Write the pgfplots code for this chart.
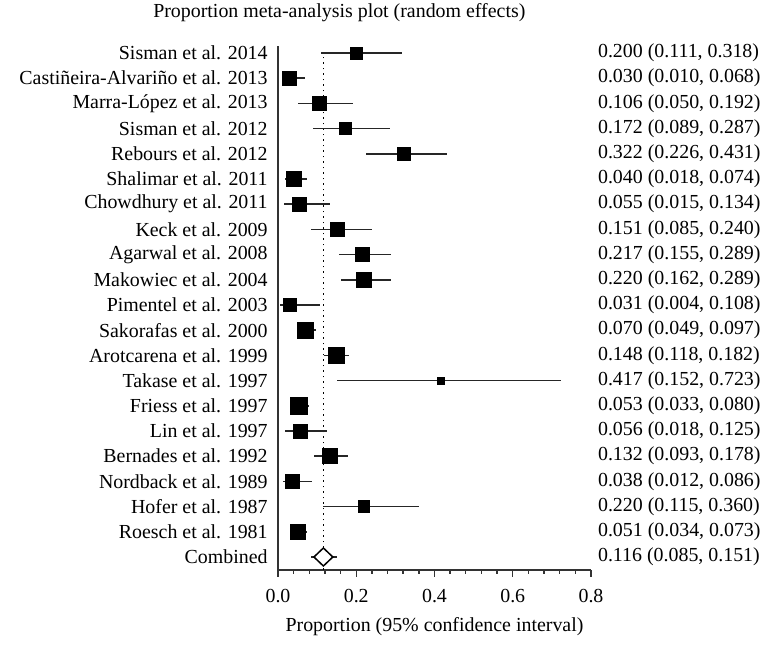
\documentclass[border=0pt]{standalone}
\usepackage{pgfplots}
\pgfplotsset{compat=1.18}
\usepackage{pgfplotstable}
\usepackage{fontspec}
\setmainfont{Liberation Serif}
\newcommand\ff{\fontsize{9.95}{11.9}\selectfont}

\pgfplotstableread{
y p lo hi s
21 0.200 0.111 0.318 3.0
20 0.030 0.010 0.068 3.5
19 0.106 0.050 0.192 3.5
18 0.172 0.089 0.287 2.9
17 0.322 0.226 0.431 3.35
16 0.040 0.018 0.074 3.65
15 0.055 0.015 0.134 3.5
14 0.151 0.085 0.240 3.5
13 0.217 0.155 0.289 3.5
12 0.220 0.162 0.289 3.6
11 0.031 0.004 0.108 3.2
10 0.070 0.049 0.097 4.0
9 0.148 0.118 0.182 4.0
8 0.417 0.152 0.723 1.75
7 0.053 0.033 0.080 4.1
6 0.056 0.018 0.125 3.5
5 0.132 0.093 0.178 3.75
4 0.038 0.012 0.086 3.5
3 0.220 0.115 0.360 2.9
2 0.051 0.034 0.073 3.9
}\studies

\begin{document}
\begin{tikzpicture}[font=\ff]
\begin{axis}[
  name=ax,
  scale only axis,
  width=156.5pt, height=262pt,
  xmin=0, xmax=0.8, ymin=0.484, ymax=21.278,
  axis x line*=bottom, axis y line*=left,
  axis line style={-, black!80, line width=0.8pt},
  xtick={0,0.2,0.4,0.6,0.8}, minor x tick num=4,
  tick align=outside, major tick length=3.5pt, minor tick length=2pt,
  tick style={black!80, line width=0.7pt},
  ytick={1,...,21},
  yticklabels={Combined, Roesch et al. 1981, Hofer et al. 1987, Nordback et al. 1989, Bernades et al. 1992, Lin et al. 1997, Friess et al. 1997, Takase et al. 1997, Arotcarena et al. 1999, Sakorafas et al. 2000, Pimentel et al. 2003, Makowiec et al. 2004, Agarwal et al. 2008, Keck et al. 2009, Chowdhury et al. 2011, Shalimar et al. 2011, Rebours et al. 2012, Sisman et al. 2012, Marra-López et al. 2013, Castiñeira-Alvariño et al. 2013, Sisman et al. 2014},
  y tick style={draw=none},
  yticklabel style={inner sep=0pt, xshift=-1.5pt, font=\ff},
  xticklabel style={font=\ff, yshift=-2.5pt, /pgf/number format/.cd, fixed, fixed zerofill, precision=1, assume math mode=true},
  clip=false,
]
% dotted line of the combined estimate
\addplot[black, line width=0.75pt, dash pattern=on 0.75pt off 2pt] coordinates {(0.116,0.484) (0.116,20.9)};
% studies
\addplot[scatter, only marks, mark=square*, point meta=y,
  scatter/use mapped color={draw=black, fill=black},
  visualization depends on={\thisrow{s} \as \msz},
  scatter/@pre marker code/.append style={/tikz/mark size=\msz},
  error bars/.cd, x dir=both, x explicit, error mark=none,
  error bar style={line width=0.8pt, black!85}]
  table[x=p, y=y, x error plus expr=\thisrow{hi}-\thisrow{p}, x error minus expr=\thisrow{p}-\thisrow{lo}] {\studies};
% combined
\addplot[only marks, mark=diamond*, mark size=4.5pt,
  mark options={fill=white, draw=black, line width=0.75pt, xscale=1.4},
  error bars/.cd, x dir=both, x explicit, error mark=none,
  error bar style={line width=0.8pt, black!85}]
  coordinates {(0.116,1) += (0.035,0) -= (0.031,0)};
% right column
\node[anchor=west] at (axis cs:0.8,21) {0.200 (0.111, 0.318)};
\node[anchor=west] at (axis cs:0.8,20) {0.030 (0.010, 0.068)};
\node[anchor=west] at (axis cs:0.8,19) {0.106 (0.050, 0.192)};
\node[anchor=west] at (axis cs:0.8,18) {0.172 (0.089, 0.287)};
\node[anchor=west] at (axis cs:0.8,17) {0.322 (0.226, 0.431)};
\node[anchor=west] at (axis cs:0.8,16) {0.040 (0.018, 0.074)};
\node[anchor=west] at (axis cs:0.8,15) {0.055 (0.015, 0.134)};
\node[anchor=west] at (axis cs:0.8,14) {0.151 (0.085, 0.240)};
\node[anchor=west] at (axis cs:0.8,13) {0.217 (0.155, 0.289)};
\node[anchor=west] at (axis cs:0.8,12) {0.220 (0.162, 0.289)};
\node[anchor=west] at (axis cs:0.8,11) {0.031 (0.004, 0.108)};
\node[anchor=west] at (axis cs:0.8,10) {0.070 (0.049, 0.097)};
\node[anchor=west] at (axis cs:0.8,9) {0.148 (0.118, 0.182)};
\node[anchor=west] at (axis cs:0.8,8) {0.417 (0.152, 0.723)};
\node[anchor=west] at (axis cs:0.8,7) {0.053 (0.033, 0.080)};
\node[anchor=west] at (axis cs:0.8,6) {0.056 (0.018, 0.125)};
\node[anchor=west] at (axis cs:0.8,5) {0.132 (0.093, 0.178)};
\node[anchor=west] at (axis cs:0.8,4) {0.038 (0.012, 0.086)};
\node[anchor=west] at (axis cs:0.8,3) {0.220 (0.115, 0.360)};
\node[anchor=west] at (axis cs:0.8,2) {0.051 (0.034, 0.073)};
\node[anchor=west] at (axis cs:0.8,1) {0.116 (0.085, 0.151)};
% title and x label
\node at (rel axis cs:0.196,1) [yshift=16.5pt] {Proportion meta-analysis plot (random effects)};
\node at (rel axis cs:0.5,0) [yshift=-28.5pt] {Proportion (95\% confidence interval)};
\end{axis}
\pgfresetboundingbox
\path ([xshift=-139pt,yshift=-48.5pt]ax.south west) rectangle ([xshift=243pt,yshift=285pt]ax.south west);
\end{tikzpicture}
\end{document}
